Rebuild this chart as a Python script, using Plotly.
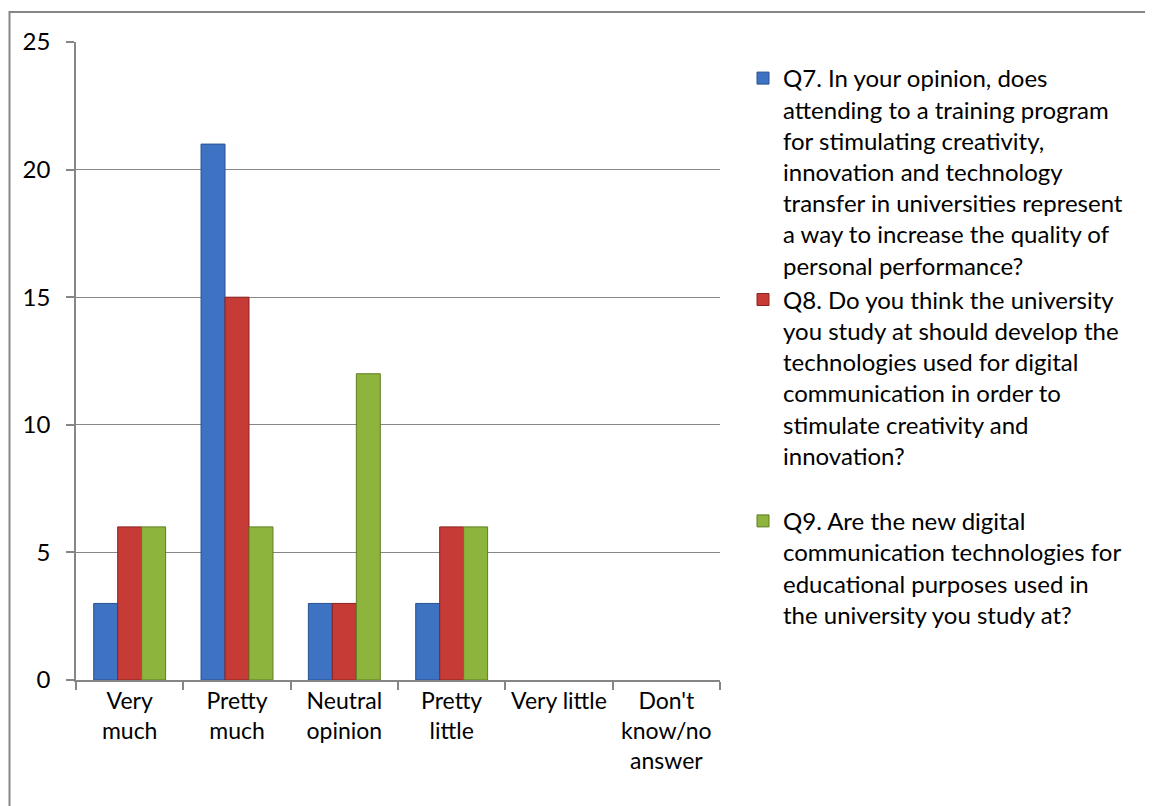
import plotly.graph_objects as go

categories = ["Very<br>much", "Pretty<br>much", "Neutral<br>opinion", "Pretty<br>little", "Very little", "Don't<br>know/no<br>answer"]
q7_values = [3, 21, 3, 3, 0, 0]
q8_values = [6, 15, 3, 6, 0, 0]
q9_values = [6, 6, 12, 6, 0, 0]
y_ticks = [0, 5, 10, 15, 20, 25]

q7_name = ("Q7. In your opinion, does<br>attending to a training program<br>for stimulating creativity,<br>"
           "innovation and technology<br>transfer in universities represent<br>a way to increase the quality of<br>"
           "personal performance?")
q8_name = ("Q8. Do you think the university<br>you study at should develop the<br>technologies used for digital<br>"
           "communication in order to<br>stimulate creativity and<br>innovation?<br> ")
q9_name = ("Q9. Are the new digital<br>communication technologies for<br>educational purposes used in<br>"
           "the university you study at?")

FONT = "Lato, 'Open Sans', sans-serif"
FS = 24

# plot area in page pixels: x 76..720, y 42..680 ; page offset of the figure ~8px
OFF = 8
L, R, T, B = 76 - OFF, 720 - OFF, 42 - OFF, 680 - OFF
W, H = 1153, 806
PW, PH = R - L, B - T

fig = go.Figure()
series = [
    (q7_name, q7_values, "#3E72C2", "#2A5190"),
    (q8_name, q8_values, "#C63B35", "#8A2420"),
    (q9_name, q9_values, "#8DB43C", "#5E7D22"),
]
for i, (name, vals, col, line) in enumerate(series):
    fig.add_trace(go.Bar(
        x=categories, y=vals, name=name,
        marker=dict(color=col, line=dict(color=line, width=[1 if v else 0 for v in vals])),
        legendgroup=f"g{i}",
    ))

fig.update_layout(
    width=W, height=H,
    margin=dict(l=L, r=W - R, t=T, b=H - B, autoexpand=False),
    paper_bgcolor="white", plot_bgcolor="white",
    barmode="group", bargap=0.33, bargroupgap=0,
    font=dict(family=FONT, size=FS, color="#000000"),
    showlegend=True,
    legend=dict(
        x=(743 - OFF - L) / PW, y=1 - (56 - OFF - T) / PH, xanchor="left", yanchor="top",
        font=dict(family=FONT, size=FS, color="#000000"),
        traceorder="normal", tracegroupgap=3, valign="top",
        bgcolor="rgba(0,0,0,0)", itemwidth=30,
    ),
    xaxis=dict(
        type="category", showline=True, linecolor="#868686", linewidth=1.5,
        ticks="outside", tickson="boundaries", ticklen=8, tickcolor="#868686", tickwidth=1.5,
        tickfont=dict(family=FONT, size=FS - 1), showgrid=False, ticklabelstandoff=0,
        tickangle=0, automargin=False,
    ),
    yaxis=dict(
        range=[0, 25], tickvals=y_ticks, showline=True, linecolor="#868686", linewidth=1.5,
        ticks="outside", ticklen=8, tickcolor="#868686", tickwidth=1.5,
        showgrid=True, gridcolor="#868686", gridwidth=1.2, zeroline=False,
        tickfont=dict(family=FONT, size=FS), ticklabelstandoff=11, automargin=False,
    ),
    shapes=[dict(
        type="rect", xref="paper", yref="paper",
        x0=(1.5 - L) / PW, x1=(1175 - OFF - L) / PW,
        y0=(B - 830) / PH, y1=1 + (T - (12 - OFF)) / PH,
        line=dict(color="#868686", width=2), fillcolor="rgba(0,0,0,0)", layer="below",
    )],
)

fig.write_html("out.html")
